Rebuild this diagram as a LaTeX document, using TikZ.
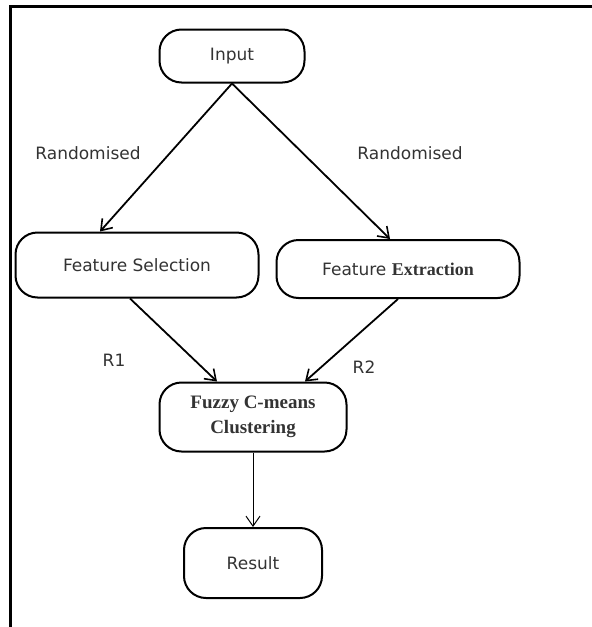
\documentclass[tikz,border=0pt]{standalone}
\usepackage{fontspec}
\setmainfont{DejaVu Sans}
\newfontfamily\tmsbf{Liberation Serif}[BoldFont={Liberation Serif Bold}]
\usetikzlibrary{calc, positioning, arrows.meta}

\begin{document}
\begin{tikzpicture}[x=1pt, y=-1pt,
  term/.style={draw, line width=2pt, rounded corners=22pt, inner sep=0pt,
    align=center, text=black!80, font=\fontsize{17}{20}\selectfont},
  lbl/.style={text=black!80, font=\fontsize{17}{20}\selectfont},
  arr/.style={line width=1.8pt, -{Straight Barb[length=10pt, width=14pt, line width=1.6pt]}}]
\useasboundingbox (0,0) rectangle (592,627);
\draw[line width=3pt] (592,6) -- (10,6) -- (10,627);
\node[term, minimum width=145pt, minimum height=53pt] (inp) at (232,56) {Input};
\node[term, minimum width=243pt, minimum height=65pt] (fs) at (137,265) {Feature Selection};
\node[term, minimum width=243pt, minimum height=58pt] (fe) at (398,269)
  {Feature {\tmsbf\bfseries\fontsize{18}{20}\selectfont Extraction}};
\node[term, minimum width=187pt, minimum height=69pt,
  font=\tmsbf\bfseries\fontsize{19}{25}\selectfont] (fz) at (253,417) {Fuzzy C-means\\Clustering};
\node[term, minimum width=138pt, minimum height=70pt] (res) at (253,563) {Result};
\node[lbl] (r1) at (88,153) {Randomised};
\node[lbl] (r2) at (410,153) {Randomised};
\node[lbl] (q1) at (114,360) {R1};
\node[lbl] (q2) at (364,367) {R2};
\draw[arr] (inp.south) -- ($(fs.north)+(-37,0)$);
\draw[arr] (inp.south) -- ($(fe.north)+(-8,0)$);
\draw[arr] ($(fs.south)+(-7,0)$) -- ($(fz.north)+(-36,0)$);
\draw[arr] (fe.south) -- ($(fz.north)+(52,0)$);
\draw[line width=1pt, -{Straight Barb[length=10pt, width=14pt, line width=1pt]}] (fz.south) -- (res.north);
\end{tikzpicture}
\end{document}
